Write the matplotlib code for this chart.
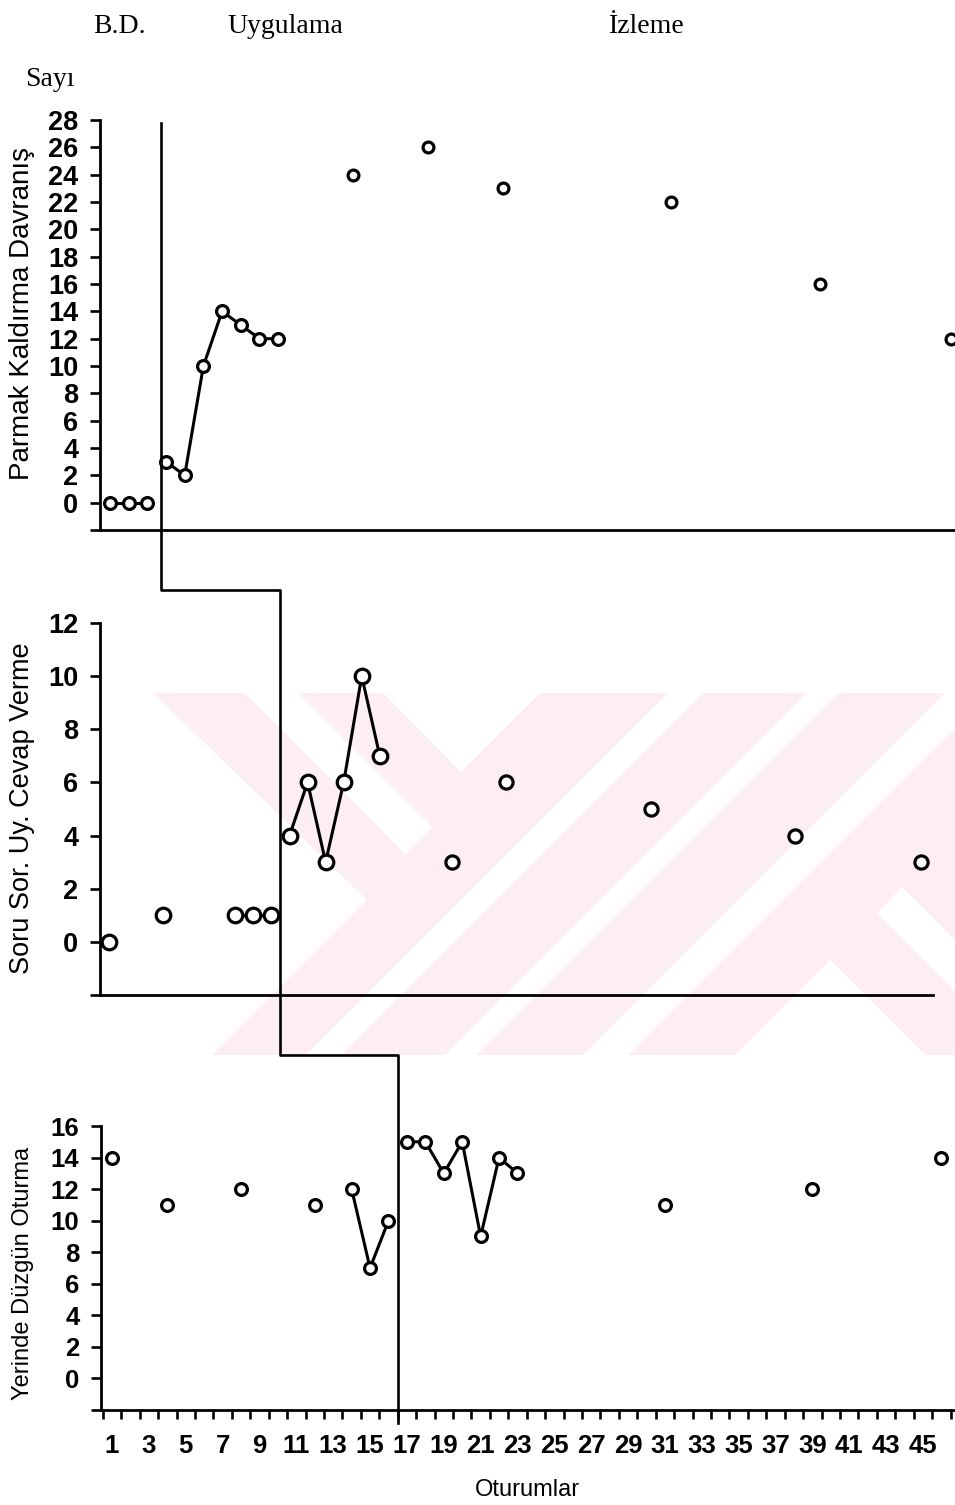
import matplotlib
matplotlib.use("Agg")
import numpy as np
import matplotlib.pyplot as plt
from matplotlib.lines import Line2D
from matplotlib.patches import Polygon
from matplotlib.transforms import Affine2D

# Parmak kaldırma davranışı
p1_bd_x = [1, 2, 3]
p1_bd_y = [0, 0, 0]
p1_uy_x = [4, 5, 6, 7, 8, 9, 10]
p1_uy_y = [3, 2, 10, 14, 13, 12, 12]
p1_iz_x = [14, 18, 22, 31, 39, 46]
p1_iz_y = [24, 26, 23, 22, 16, 12]

# Soru sorulduğunda uygun cevap verme
p2_bd_x = [1, 4, 8, 9, 10]
p2_bd_y = [0, 1, 1, 1, 1]
p2_uy_x = [11, 12, 13, 14, 15, 16]
p2_uy_y = [4, 6, 3, 6, 10, 7]
p2_iz_x = [20, 23, 31, 39, 46]
p2_iz_y = [3, 6, 5, 4, 3]

# Yerinde düzgün oturma
p3_bd_x = [1, 4, 8, 12, 14, 15, 16]
p3_bd_y = [14, 11, 12, 11, 12, 7, 10]
p3_uy_x = [17, 18, 19, 20, 21, 22, 23]
p3_uy_y = [15, 15, 13, 15, 9, 14, 13]
p3_iz_x = [31, 39, 46]
p3_iz_y = [11, 12, 14]

ylabels = ["Parmak Kaldırma Davranış", "Soru Sor. Uy. Cevap Verme",
           "Yerinde Düzgün Oturma"]
x_ticklabels = [str(i) for i in range(1, 46, 2)]

W, H = 955, 1505
fig = plt.figure(figsize=(W / 100, H / 100), dpi=100)
px = Affine2D().scale(1 / W, -1 / H).translate(0, 1) + fig.transFigure

SANS = "Liberation Sans"
SERIF = "Liberation Serif"


def box(left, top, right, bottom):
    return [left / W, 1 - bottom / H, (right - left) / W, (bottom - top) / H]


def draw_series(ax, xs, ys, ms):
    # ardışık oturumları çizgiyle birleştir
    xs = np.asarray(xs)
    ys = np.asarray(ys)
    breaks = np.where(np.diff(xs) != 1)[0] + 1
    for gx, gy in zip(np.split(xs, breaks), np.split(ys, breaks)):
        if len(gx) > 1:
            ax.plot(gx, gy, color="black", lw=2.2, zorder=3,
                    solid_capstyle="butt")
    ax.plot(xs, ys, ls="none", marker="o", ms=ms, mfc="white",
            mec="black", mew=2.3, zorder=4)


def style_axis(ax, ymax, label_size):
    for s in ["top", "right"]:
        ax.spines[s].set_visible(False)
    for s in ["left", "bottom"]:
        ax.spines[s].set_linewidth(2.0)
    ax.set_facecolor("none")
    ticks = np.arange(-2, ymax + 1, 2)
    ax.set_yticks(ticks)
    ax.set_yticklabels([""] + [str(t) for t in ticks[1:]],
                       fontsize=label_size, fontweight="bold", family=SANS)
    ax.tick_params(axis="y", direction="out", length=7.5, width=1.9,
                   pad=8)
    ax.set_ylim(-2, ymax)


ax1 = fig.add_axes(box(100, 120, 955, 530))
ax2 = fig.add_axes(box(100, 623, 933, 995))
ax3 = fig.add_axes(box(101, 1126, 955, 1410))

style_axis(ax1, 28, 19.5)
style_axis(ax2, 12, 19.5)
style_axis(ax3, 16, 18.5)
ax1.set_xlim(0.47, 46.2)
ax2.set_xlim(0.5, 46.65)
ax3.set_xlim(0.4, 46.74)
for ax in (ax1, ax2):
    ax.set_xticks([])

ax3.set_xticks(np.arange(0.5, 47, 1))
ax3.set_xticklabels([])
ax3.set_xticks(np.arange(1, 46, 2), minor=True)
ax3.set_xticklabels(x_ticklabels, minor=True, fontsize=18.5,
                    fontweight="bold", family=SANS)
ax3.tick_params(axis="x", which="major", direction="out", length=6.5,
                width=1.9)
ax3.tick_params(axis="x", which="minor", length=0, pad=17)

draw_series(ax1, p1_bd_x, p1_bd_y, 8.5)
draw_series(ax1, p1_uy_x, p1_uy_y, 8.5)
draw_series(ax1, p1_iz_x, p1_iz_y, 7.8)
draw_series(ax2, p2_bd_x, p2_bd_y, 10.5)
draw_series(ax2, p2_uy_x, p2_uy_y, 10.5)
draw_series(ax2, p2_iz_x, p2_iz_y, 9.5)
draw_series(ax3, p3_bd_x, p3_bd_y, 8.5)
draw_series(ax3, p3_uy_x, p3_uy_y, 8.5)
draw_series(ax3, p3_iz_x, p3_iz_y, 8.5)


# faz değişim çizgisi (basamaklı)
def fig_xy(ax, x, y):
    return fig.transFigure.inverted().transform(ax.transData.transform((x, y)))


step = [fig_xy(ax1, 3.75, 27.8)]
step.append((step[-1][0], fig_xy(ax2, 0, 13.25)[1]))
step.append((fig_xy(ax2, 10.45, 0)[0], step[-1][1]))
step.append((step[-1][0], fig_xy(ax3, 0, 20.5)[1]))
step.append((fig_xy(ax3, 16.5, 0)[0], step[-1][1]))
step.append((step[-1][0], fig_xy(ax3, 0, -2.8)[1]))
step = np.array(step)
fig.add_artist(Line2D(step[:, 0], step[:, 1], color="black", lw=1.9,
                      transform=fig.transFigure, zorder=5))

# arka plandaki soluk logo
pink = "#fdeef1"
wm_base = [(153, 693), (955, 693), (955, 1055), (212, 1055), (367, 900)]
wm_white = [
    [(245, 693), (298, 693), (432, 827), (405, 854)],
    [(383, 693), (540, 693), (461, 772)],
    [(668, 693), (703, 693), (341, 1055), (306, 1055)],
    [(807, 693), (838, 693), (476, 1055), (445, 1055)],
    [(945, 693), (990, 693), (628, 1055), (583, 1055)],
    [(830, 960), (925, 1055), (735, 1055)],
    [(902, 887), (955, 940), (955, 991), (877, 913)],
]
fig.add_artist(Polygon(wm_base, closed=True, fc=pink, ec="none",
                       transform=px, zorder=-2))
for poly in wm_white:
    fig.add_artist(Polygon(poly, closed=True, fc="white", ec="none",
                           transform=px, zorder=-1))

# başlıklar
fig.text(120, 33, "B.D.", transform=px, ha="center", va="baseline",
         fontsize=20, family=SERIF)
fig.text(285, 33, "Uygulama", transform=px, ha="center", va="baseline",
         fontsize=20, family=SERIF)
fig.text(646, 33, "İzleme", transform=px, ha="center", va="baseline",
         fontsize=20, family=SERIF)
fig.text(25, 86, "Sayı", transform=px, ha="left", va="baseline",
         fontsize=20, family=SERIF)

fig.text(22, 313, ylabels[0], transform=px, rotation=90, ha="center",
         va="center", fontsize=20, family=SANS)
fig.text(22, 808, ylabels[1], transform=px, rotation=90, ha="center",
         va="center", fontsize=19.5, family=SANS)
fig.text(23, 1273, ylabels[2], transform=px, rotation=90, ha="center",
         va="center", fontsize=17, family=SANS)
fig.text(527, 1490, "Oturumlar", transform=px, ha="center", va="center",
         fontsize=17, family=SANS)

fig.savefig("out.png", dpi=100)
